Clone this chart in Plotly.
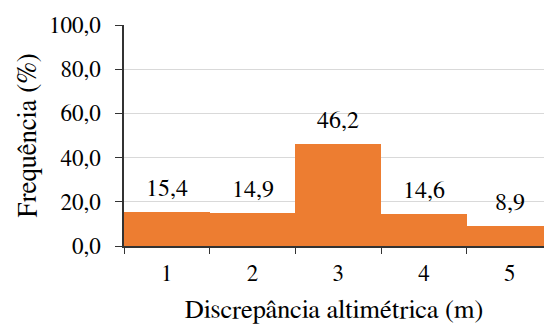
import plotly.graph_objects as go

# Frequency distribution of altimetric discrepancy classes
classes = ["1", "2", "3", "4", "5"]
frequency = [15.4, 14.9, 46.2, 14.6, 8.9]
y_ticks = [0, 20, 40, 60, 80, 100]

bar_color = "#ED7D31"
font_family = "FreeSerif"

fig = go.Figure(
    go.Bar(
        x=classes,
        y=frequency,
        marker=dict(color=bar_color, line=dict(width=0)),
        width=1.0,
        hoverinfo="skip",
    )
)

# value labels above each bar (positioned by category index)
for i, v in enumerate(frequency):
    fig.add_annotation(
        x=i, y=v, text=f"{v:.1f}".replace(".", ","),
        showarrow=False, yanchor="middle", yshift=23,
        font=dict(family=font_family, size=24, color="#000000"),
    )

fig.update_layout(
    width=544, height=324,
    margin=dict(l=124, r=0, t=25, b=78),
    plot_bgcolor="white", paper_bgcolor="white",
    separators=",.",
    showlegend=False,
    bargap=0,
    font=dict(family=font_family, color="#000000"),
)

fig.update_xaxes(
    type="category",
    range=[-0.5, 4.4],
    tickson="boundaries",
    ticks="outside", ticklen=6, tickwidth=1.2, tickcolor="#333333",
    showline=True, linecolor="#333333", linewidth=1.5,
    showgrid=False,
    tickfont=dict(family=font_family, size=23),
    ticklabelstandoff=6,
    automargin=False,
    title=dict(text="Discrepância altimétrica (m)",
               font=dict(family=font_family, size=26.5), standoff=22),
)

fig.update_yaxes(
    range=[0, 100],
    tickvals=y_ticks,
    tickformat=".1f",
    ticks="outside", ticklen=7, tickwidth=1.2, tickcolor="#333333",
    showline=True, linecolor="#333333", linewidth=1.5,
    showgrid=True, gridcolor="#d9d9d9", gridwidth=1,
    zeroline=False,
    tickfont=dict(family=font_family, size=23),
    ticklabelstandoff=10,
    automargin=False,
    title=dict(text="Frequência (%)",
               font=dict(family=font_family, size=27), standoff=4),
)

fig.write_html("out.html")
